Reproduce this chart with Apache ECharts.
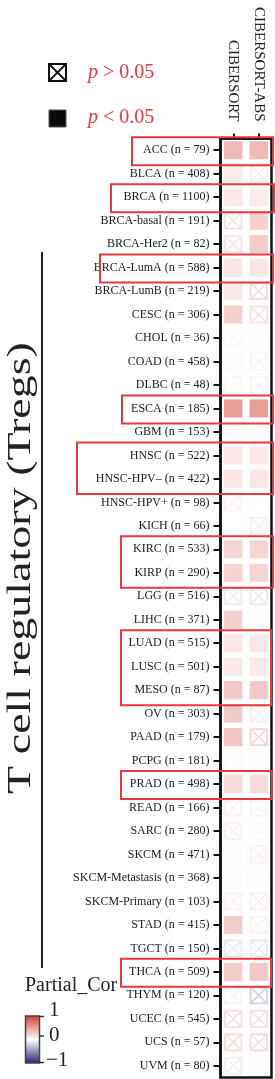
<!DOCTYPE html>
<html>
<head>
<meta charset="utf-8">
<script src="https://cdn.jsdelivr.net/npm/echarts@6/dist/echarts.min.js"></script>
<style>
html,body{margin:0;padding:0;background:#fff;}
#main{width:275px;height:1079px;}
</style>
</head>
<body>
<div id="main"></div>
<script>
// 数据
var cancers = ['ACC','BLCA','BRCA','BRCA-basal','BRCA-Her2','BRCA-LumA','BRCA-LumB','CESC','CHOL','COAD',
	'DLBC','ESCA','GBM','HNSC','HNSC-HPV–','HNSC-HPV+','KICH','KIRC','KIRP','LGG',
	'LIHC','LUAD','LUSC','MESO','OV','PAAD','PCPG','PRAD','READ','SARC',
	'SKCM','SKCM-Metastasis','SKCM-Primary','STAD','TGCT','THCA','THYM','UCEC','UCS','UVM'];
var sampleSizes = [79,408,1100,191,82,588,219,306,36,458,
	48,185,153,522,422,98,66,533,290,516,
	371,515,501,87,303,179,181,498,166,280,
	471,368,103,415,150,509,120,545,57,80];
var methods = ['CIBERSORT','CIBERSORT-ABS'];

// partial correlation
var corCibersort = [0.35,0.10,0.12,0.15,0.14,0.13,0.11,0.24,0.03,-0.02,
	-0.03,0.50,0.03,0.12,0.13,0.06,0.00,0.21,0.23,-0.08,
	0.24,0.12,0.11,0.28,0.27,0.29,0.03,0.19,0.07,0.08,
	0.02,0.02,0.06,0.26,-0.10,0.26,-0.04,0.16,0.18,-0.07];
var corAbs = [0.35,0.10,0.10,0.24,0.26,0.13,0.19,0.15,0.02,-0.04,
	-0.04,0.50,0.02,0.12,0.13,0.00,0.08,0.21,0.22,-0.09,
	0.03,0.12,0.11,0.28,0.08,0.21,0.02,0.19,0.05,0.03,
	0.07,0.02,0.07,0.06,-0.10,0.28,-0.20,0.16,0.18,0.03];
// 1 : p < 0.05
var sigCibersort = [1,1,1,0,0,1,1,1,0,0, 0,1,0,1,1,0,0,1,1,0, 1,1,1,1,1,1,0,1,0,0, 0,0,0,1,0,1,0,0,0,0];
var sigAbs       = [1,0,1,1,1,1,0,0,0,0, 0,1,0,1,1,0,0,1,1,0, 0,1,1,1,0,0,0,1,0,0, 0,0,0,0,0,1,0,0,0,0];

// 红框
var boxGroups = [['ACC','ACC'],['BRCA','BRCA'],['BRCA-LumA','BRCA-LumA'],['ESCA','ESCA'],['HNSC','HNSC-HPV–'],
	['KIRC','KIRP'],['LUAD','MESO'],['PRAD','PRAD'],['THCA','THCA']];
var boxLeft  = [132,111,100,122,77,121,121,121,121];
var boxRight = [273,274,273,273,273,273,271,272,271];

var colorS = ['#20206e','#ffffff','#d63a35'];
var redLine = '#e8373e';
var serif = '"Liberation Serif", "DejaVu Serif", serif';

var rowLabels = [];
for (var i = 0; i < cancers.length; i++) {
	rowLabels.push(cancers[i] + ' (n = ' + sampleSizes[i] + ')');
}
var cellData = [];
for (var j = 0; j < cancers.length; j++) {
	cellData.push([0, j, corCibersort[j], sigCibersort[j]]);
	cellData.push([1, j, corAbs[j], sigAbs[j]]);
}

function renderCell(params, api) {
	var c = api.coord([api.value(0), api.value(1)]);
	var s = api.size([1, 1]);
	var w = s[0] * 0.72, h = s[1] * 0.77;
	var x0 = c[0] - w / 2, y0 = c[1] - h / 2;
	var color = api.visual('color');
	if (api.value(3)) {
		return {type: 'rect', shape: {x: x0, y: y0, width: w, height: h}, style: {fill: color}};
	}
	return {type: 'group', children: [
		{type: 'rect', shape: {x: x0 + 1, y: y0 + 1, width: w - 2, height: h - 2}, style: {fill: 'none', stroke: color, lineWidth: 1.8}},
		{type: 'line', shape: {x1: x0 + 1, y1: y0 + 1, x2: x0 + w - 1, y2: y0 + h - 1}, style: {stroke: color, lineWidth: 1.5}},
		{type: 'line', shape: {x1: x0 + w - 1, y1: y0 + 1, x2: x0 + 1, y2: y0 + h - 1}, style: {stroke: color, lineWidth: 1.5}}
	]};
}

var myChart = echarts.init(document.getElementById('main'), null, {renderer: 'canvas'});

var option = {
	animation: false,
	backgroundColor: '#fff',
	grid: {
		left: 220.5, top: 138.5, width: 51, height: 939,
		show: true, borderColor: '#111', borderWidth: 2.5, backgroundColor: 'transparent'
	},
	visualMap: {
		show: false, type: 'continuous', min: -1, max: 1, dimension: 2, seriesIndex: 0,
		inRange: {color: colorS}
	},
	xAxis: {
		type: 'category', position: 'top', data: methods,
		axisLine: {show: true, lineStyle: {color: '#111', width: 2.5}},
		axisTick: {show: true, alignWithLabel: true, length: 5, lineStyle: {color: '#111', width: 2}},
		axisLabel: {rotate: 90, margin: 17, color: '#222', fontFamily: serif, fontSize: 15},
		splitLine: {show: false}
	},
	yAxis: {
		type: 'category', inverse: true, data: rowLabels,
		axisLine: {show: true, lineStyle: {color: '#111', width: 2.5}},
		axisTick: {show: true, alignWithLabel: true, length: 7, lineStyle: {color: '#111', width: 2}},
		axisLabel: {interval: 0, margin: 11, color: '#1a1a1a', fontFamily: serif, fontSize: 12},
		splitLine: {show: false}
	},
	series: [{
		type: 'custom',
		renderItem: renderCell,
		encode: {x: 0, y: 1},
		data: cellData,
		z: 3
	}],
	graphic: [
		// 图例
		{type: 'rect', shape: {x: 49, y: 64, width: 17, height: 17}, style: {fill: '#fff', stroke: '#111', lineWidth: 2}},
		{type: 'line', shape: {x1: 49, y1: 64, x2: 66, y2: 81}, style: {stroke: '#111', lineWidth: 1.8}},
		{type: 'line', shape: {x1: 66, y1: 64, x2: 49, y2: 81}, style: {stroke: '#111', lineWidth: 1.8}},
		{type: 'text', x: 88, y: 73, style: {text: '{i|p} > 0.05', fill: redLine, font: '20px ' + serif, verticalAlign: 'middle',
			rich: {i: {fontStyle: 'italic', fontFamily: serif, fontSize: 20, fill: redLine}}}},
		{type: 'rect', shape: {x: 49, y: 110, width: 17, height: 17}, style: {fill: '#0a0a0a', stroke: '#555', lineWidth: 1}},
		{type: 'text', x: 88, y: 118, style: {text: '{i|p} < 0.05', fill: redLine, font: '20px ' + serif, verticalAlign: 'middle',
			rich: {i: {fontStyle: 'italic', fontFamily: serif, fontSize: 20, fill: redLine}}}},
		// 左侧标题
		{type: 'line', shape: {x1: 42, y1: 252, x2: 42, y2: 968}, style: {stroke: '#222', lineWidth: 2}},
		{type: 'text', x: 21, y: 568, rotation: Math.PI / 2, scaleX: 1, scaleY: 0.74,
			style: {text: 'T cell regulatory (Tregs)', fill: '#222', font: '46px ' + serif, align: 'center', verticalAlign: 'middle'}},
		// 色条
		{type: 'text', x: 25, y: 986, style: {text: 'Partial_Cor', fill: '#222', font: '20px ' + serif, verticalAlign: 'middle'}},
		{type: 'rect', shape: {x: 25.5, y: 1016, width: 14, height: 47},
			style: {fill: new echarts.graphic.LinearGradient(0, 0, 0, 1, [
				{offset: 0, color: colorS[2]}, {offset: 0.5, color: colorS[1]}, {offset: 1, color: colorS[0]}]),
				stroke: '#444', lineWidth: 1.5}},
		{type: 'line', shape: {x1: 39.5, y1: 1016.5, x2: 44, y2: 1016.5}, style: {stroke: '#333', lineWidth: 1.5}},
		{type: 'line', shape: {x1: 39.5, y1: 1036, x2: 44, y2: 1036}, style: {stroke: '#333', lineWidth: 1.5}},
		{type: 'line', shape: {x1: 39.5, y1: 1062.5, x2: 44, y2: 1062.5}, style: {stroke: '#333', lineWidth: 1.5}},
		{type: 'text', x: 49, y: 1010, style: {text: '1', fill: '#222', font: '21px ' + serif, verticalAlign: 'middle'}},
		{type: 'text', x: 49, y: 1035, style: {text: '0', fill: '#222', font: '21px ' + serif, verticalAlign: 'middle'}},
		{type: 'text', x: 46, y: 1060, style: {text: '−1', fill: '#222', font: '21px ' + serif, verticalAlign: 'middle'}}
	]
};
myChart.setOption(option);

// 红框，位置由坐标轴换算
var boxes = [];
for (var b = 0; b < boxGroups.length; b++) {
	var i0 = cancers.indexOf(boxGroups[b][0]);
	var i1 = cancers.indexOf(boxGroups[b][1]);
	var yTop = myChart.convertToPixel({gridIndex: 0}, [0, i0])[1] - 13;
	var yBot = myChart.convertToPixel({gridIndex: 0}, [0, i1])[1] + 15;
	boxes.push({
		type: 'rect', id: 'box' + b, z: 100,
		shape: {x: boxLeft[b], y: yTop, width: boxRight[b] - boxLeft[b], height: yBot - yTop},
		style: {fill: 'none', stroke: redLine, lineWidth: 2}
	});
}
myChart.setOption({graphic: boxes});
</script>
</body>
</html>
